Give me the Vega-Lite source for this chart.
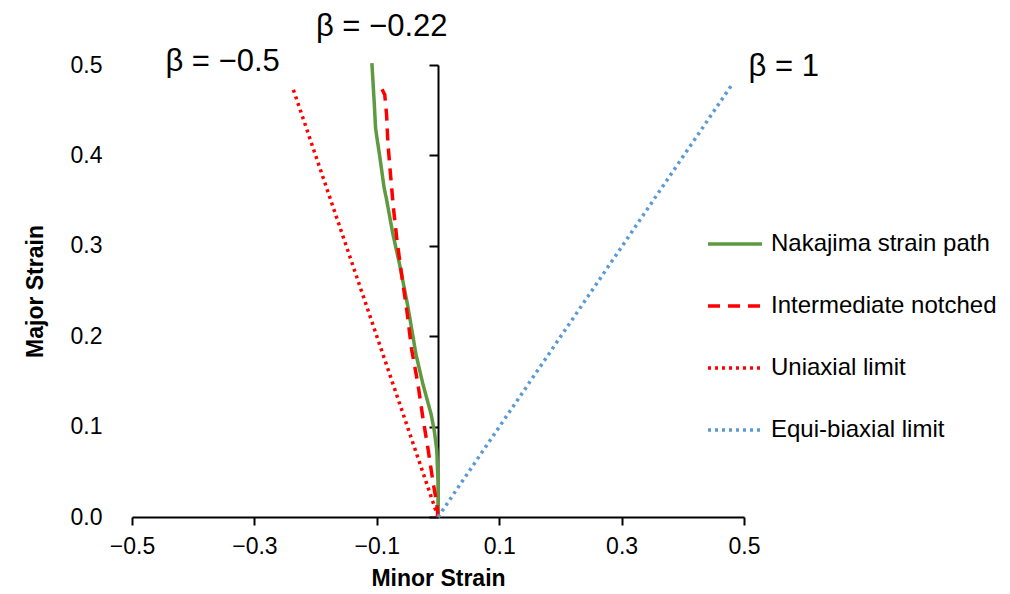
{
  "$schema": "https://vega.github.io/schema/vega-lite/v6.json",
  "width": 612,
  "height": 452,
  "autosize": {"type": "none"},
  "padding": {"left": 132, "top": 65, "right": 266, "bottom": 77},
  "background": "white",
  "config": {
    "view": {"stroke": null},
    "font": "Liberation Sans",
    "axis": {"grid": false}
  },
  "datasets": {
    "paths": [
      {"series": "Nakajima strain path", "minor": 0.0, "major": 0.0},
      {"series": "Nakajima strain path", "minor": 0.0, "major": 0.038},
      {"series": "Nakajima strain path", "minor": -0.002, "major": 0.074},
      {"series": "Nakajima strain path", "minor": -0.006, "major": 0.095},
      {"series": "Nakajima strain path", "minor": -0.011, "major": 0.113},
      {"series": "Nakajima strain path", "minor": -0.025, "major": 0.148},
      {"series": "Nakajima strain path", "minor": -0.036, "major": 0.180},
      {"series": "Nakajima strain path", "minor": -0.049, "major": 0.232},
      {"series": "Nakajima strain path", "minor": -0.062, "major": 0.277},
      {"series": "Nakajima strain path", "minor": -0.074, "major": 0.314},
      {"series": "Nakajima strain path", "minor": -0.084, "major": 0.351},
      {"series": "Nakajima strain path", "minor": -0.088, "major": 0.364},
      {"series": "Nakajima strain path", "minor": -0.095, "major": 0.398},
      {"series": "Nakajima strain path", "minor": -0.099, "major": 0.416},
      {"series": "Nakajima strain path", "minor": -0.102, "major": 0.430},
      {"series": "Nakajima strain path", "minor": -0.104, "major": 0.456},
      {"series": "Nakajima strain path", "minor": -0.108, "major": 0.502},
      {"series": "Intermediate notched", "minor": 0.0, "major": 0.0},
      {"series": "Intermediate notched", "minor": -0.002, "major": 0.015},
      {"series": "Intermediate notched", "minor": -0.008, "major": 0.038},
      {"series": "Intermediate notched", "minor": -0.016, "major": 0.074},
      {"series": "Intermediate notched", "minor": -0.025, "major": 0.111},
      {"series": "Intermediate notched", "minor": -0.033, "major": 0.148},
      {"series": "Intermediate notched", "minor": -0.043, "major": 0.185},
      {"series": "Intermediate notched", "minor": -0.051, "major": 0.229},
      {"series": "Intermediate notched", "minor": -0.059, "major": 0.266},
      {"series": "Intermediate notched", "minor": -0.067, "major": 0.306},
      {"series": "Intermediate notched", "minor": -0.073, "major": 0.343},
      {"series": "Intermediate notched", "minor": -0.078, "major": 0.382},
      {"series": "Intermediate notched", "minor": -0.082, "major": 0.415},
      {"series": "Intermediate notched", "minor": -0.084, "major": 0.445},
      {"series": "Intermediate notched", "minor": -0.087, "major": 0.467},
      {"series": "Intermediate notched", "minor": -0.092, "major": 0.474},
      {"series": "Uniaxial limit", "minor": 0.0, "major": 0.0},
      {"series": "Uniaxial limit", "minor": -0.237, "major": 0.474},
      {"series": "Equi-biaxial limit", "minor": 0.0, "major": 0.0},
      {"series": "Equi-biaxial limit", "minor": 0.482, "major": 0.48}
    ],
    "labels": [
      {"minor": -0.352, "major": 0.503, "label": "β = −0.5"},
      {"minor": -0.092, "major": 0.542, "label": "β = −0.22"},
      {"minor": 0.565, "major": 0.498, "label": "β = 1"}
    ],
    "yline": [
      {"minor": 0, "major": 0},
      {"minor": 0, "major": 0.5}
    ]
  },
  "resolve": {"axis": {"y": "independent"}},
  "layer": [
    {
      "data": {"name": "paths"},
      "mark": {"type": "line", "strokeWidth": 3.5, "clip": false},
      "encoding": {
        "x": {
          "field": "minor", "type": "quantitative",
          "scale": {"domain": [-0.5, 0.5], "nice": false, "zero": false},
          "axis": {
            "values": [-0.5, -0.3, -0.1, 0.1, 0.3, 0.5],
            "format": ".1f",
            "labelFlush": false,
            "title": "Minor Strain",
            "titleFont": "Liberation Sans", "titleFontSize": 23, "titleFontWeight": "bold", "titleColor": "black",
            "titlePadding": 9,
            "labelFont": "Liberation Sans", "labelFontSize": 23, "labelColor": "black", "labelPadding": 10,
            "domainColor": "black", "domainWidth": 2,
            "tickColor": "black", "tickWidth": 2, "tickSize": 8
          }
        },
        "y": {
          "field": "major", "type": "quantitative",
          "scale": {"domain": [0, 0.5], "nice": false},
          "axis": {
            "orient": "left",
            "values": [0, 0.1, 0.2, 0.3, 0.4, 0.5],
            "format": ".1f",
            "labelFlush": false,
            "domain": false, "ticks": false,
            "title": "Major Strain",
            "titleFont": "Liberation Sans", "titleFontSize": 23, "titleFontWeight": "bold", "titleColor": "black",
            "titlePadding": 23,
            "labelFont": "Liberation Sans", "labelFontSize": 23, "labelColor": "black", "labelPadding": 30
          }
        },
        "color": {
          "field": "series", "type": "nominal",
          "scale": {
            "domain": ["Nakajima strain path", "Intermediate notched", "Uniaxial limit", "Equi-biaxial limit"],
            "range": ["#5f9a40", "#ff0000", "#ff0000", "#5b9bd5"]
          },
          "legend": {
            "orient": "none", "legendX": 574, "legendY": 150,
            "title": null,
            "symbolType": "stroke", "symbolSize": 2916, "symbolStrokeWidth": 3.5,
            "labelFont": "Liberation Sans", "labelFontSize": 24, "labelColor": "black", "labelLimit": 0,
            "labelOffset": 7, "rowPadding": 21
          }
        },
        "strokeDash": {
          "field": "series", "type": "nominal",
          "scale": {
            "domain": ["Nakajima strain path", "Intermediate notched", "Uniaxial limit", "Equi-biaxial limit"],
            "range": [[1, 0], [12, 8], [3, 4], [3, 4]]
          },
          "legend": {
            "orient": "none", "legendX": 574, "legendY": 150,
            "title": null,
            "symbolType": "stroke", "symbolSize": 2916, "symbolStrokeWidth": 3.5,
            "labelFont": "Liberation Sans", "labelFontSize": 24, "labelColor": "black", "labelLimit": 0,
            "labelOffset": 7, "rowPadding": 21
          }
        },
        "order": {"field": "major", "type": "quantitative"}
      }
    },
    {
      "data": {"name": "yline"},
      "mark": {"type": "point", "opacity": 0},
      "encoding": {
        "x": {"field": "minor", "type": "quantitative"},
        "y": {
          "field": "major", "type": "quantitative",
          "axis": {
            "orient": "left", "offset": -306,
            "values": [0, 0.1, 0.2, 0.3, 0.4, 0.5],
            "labels": false, "title": null,
            "domainColor": "black", "domainWidth": 2,
            "tickColor": "black", "tickWidth": 2, "tickSize": 9
          }
        }
      }
    },
    {
      "data": {"name": "labels"},
      "mark": {"type": "text", "font": "Liberation Sans", "fontSize": 31, "color": "black", "align": "center", "baseline": "middle", "clip": false},
      "encoding": {
        "x": {"field": "minor", "type": "quantitative"},
        "y": {"field": "major", "type": "quantitative", "axis": null},
        "text": {"field": "label"}
      }
    }
  ]
}
